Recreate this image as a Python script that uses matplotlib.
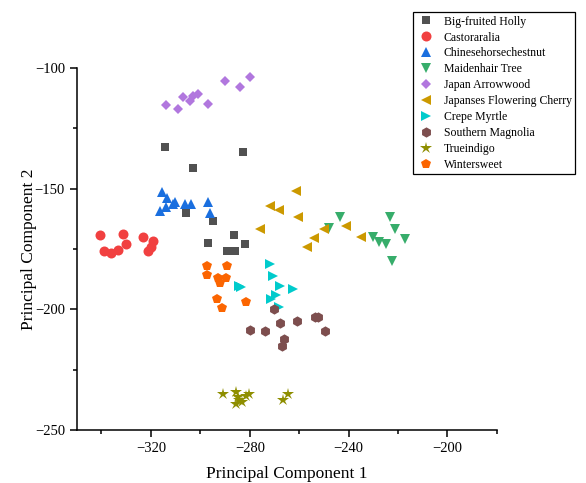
import matplotlib
matplotlib.use("Agg")
import matplotlib.pyplot as plt

plt.rcParams['font.family'] = ['Liberation Serif', 'DejaVu Serif']

# PCA scores per species (PC1, PC2)
holly_x = [-314.2, -282.9, -303.1, -305.7, -294.8, -286.4, -296.7, -281.9, -289.1, -286.1]
holly_y = [-132.7, -134.8, -141.5, -159.9, -163.3, -169.3, -172.4, -172.9, -175.7, -175.7]

castor_x = [-340.8, -331.4, -330.2, -323.4, -319.0, -338.9, -336.2, -333.4, -321.0, -319.9]
castor_y = [-169.3, -168.8, -172.9, -169.9, -171.5, -175.8, -176.8, -175.4, -175.7, -174.0]

chestnut_x = [-315.5, -313.5, -310.4, -311.1, -313.9, -316.2, -306.1, -303.7, -297.0, -295.9]
chestnut_y = [-151.5, -153.7, -155.4, -156.3, -157.5, -159.4, -156.3, -156.3, -155.4, -160.2]

maiden_x = [-243.3, -247.8, -223.1, -221.3, -230.1, -227.7, -224.7, -217.2, -222.3]
maiden_y = [-161.6, -166.4, -161.8, -166.7, -169.9, -172.0, -173.0, -171.0, -180.0]

arrow_x = [-313.8, -309.0, -307.0, -304.0, -302.9, -301.1, -297.0, -290.2, -284.1, -280.0]
arrow_y = [-115.3, -117.0, -111.9, -113.7, -111.6, -110.9, -115.0, -105.3, -107.7, -103.6]

cherry_x = [-261.3, -271.8, -268.1, -260.6, -275.8, -249.8, -241.0, -254.1, -256.8, -235.1]
cherry_y = [-151.0, -157.0, -158.8, -161.8, -166.8, -166.8, -165.3, -170.3, -174.3, -170.1]

crepe_x = [-271.8, -270.8, -267.7, -262.7, -283.4, -284.5, -269.4, -271.5, -268.1]
crepe_y = [-181.2, -186.2, -190.3, -191.5, -190.6, -190.3, -194.0, -195.7, -199.1]

magnolia_x = [-270.4, -279.9, -273.8, -267.8, -260.9, -253.6, -252.2, -249.5, -266.1, -267.1]
magnolia_y = [-200.0, -208.5, -209.2, -205.8, -204.8, -203.0, -203.0, -209.2, -212.3, -215.2]

indigo_x = [-290.7, -285.4, -284.8, -285.7, -283.3, -281.7, -280.3, -266.7, -264.7, -284.2]
indigo_y = [-235.3, -234.3, -236.2, -239.2, -238.5, -235.9, -235.2, -237.5, -235.2, -237.5]

winter_x = [-297.5, -289.4, -297.2, -292.8, -289.8, -292.1, -293.2, -281.7, -291.1]
winter_y = [-182.0, -182.0, -185.7, -186.9, -186.9, -189.2, -195.8, -196.8, -199.5]

species = [
    ("Big-fruited Holly", holly_x, holly_y, "s", "#515151", 6.3),
    ("Castoraralia", castor_x, castor_y, "o", "#F14040", 7.2),
    ("Chinesehorsechestnut", chestnut_x, chestnut_y, "^", "#1A6FDF", 7.6),
    ("Maidenhair Tree", maiden_x, maiden_y, "v", "#37AD6B", 7.6),
    ("Japan Arrowwood", arrow_x, arrow_y, "D", "#B177DE", 5.6),
    ("Japanses Flowering Cherry", cherry_x, cherry_y, "<", "#CC9900", 7.6),
    ("Crepe Myrtle", crepe_x, crepe_y, ">", "#00CBCC", 7.6),
    ("Southern Magnolia", magnolia_x, magnolia_y, "h", "#7D4E4E", 7.4),
    ("Trueindigo", indigo_x, indigo_y, "*", "#8E8E00", 8.6),
    ("Wintersweet", winter_x, winter_y, "p", "#FB6501", 7.6),
]

fig = plt.figure(figsize=(5.86, 4.83), dpi=100)
ax = fig.add_axes([0.131, 0.110, 0.717, 0.749])

for name, xs, ys, mk, col, ms in species:
    ax.plot(xs, ys, linestyle="None", marker=mk, color=col, markersize=ms,
            markeredgewidth=0, label=name)

ax.set_xlim(-350, -180)
ax.set_ylim(-250, -100)
ax.set_xticks([-320, -280, -240, -200])
ax.set_xticks([-340, -300, -260, -220, -180], minor=True)
ax.set_yticks([-250, -200, -150, -100])
ax.set_yticks([-225, -175, -125], minor=True)

for side in ["top", "right"]:
    ax.spines[side].set_visible(False)
for side in ["left", "bottom"]:
    ax.spines[side].set_linewidth(1.1)

ax.tick_params(which="major", direction="out", length=5, width=1.1, labelsize=10.5)
ax.tick_params(which="minor", direction="out", length=3, width=1.1)

ax.set_xlabel("Principal Component 1", fontsize=12.5, labelpad=8)
ax.set_ylabel("Principal Component 2", fontsize=12.5, labelpad=-2)

# legend box sits partly outside the axes, top right of the figure
leg = fig.legend(loc="upper left", bbox_to_anchor=(0.705, 0.975), fontsize=8.5,
                 frameon=True, fancybox=False, edgecolor="black", framealpha=1,
                 labelspacing=0.33, handletextpad=0.7, handlelength=1.6,
                 borderpad=0.3, borderaxespad=0, numpoints=1)
leg.get_frame().set_linewidth(0.9)

fig.savefig("out.png", dpi=100)
